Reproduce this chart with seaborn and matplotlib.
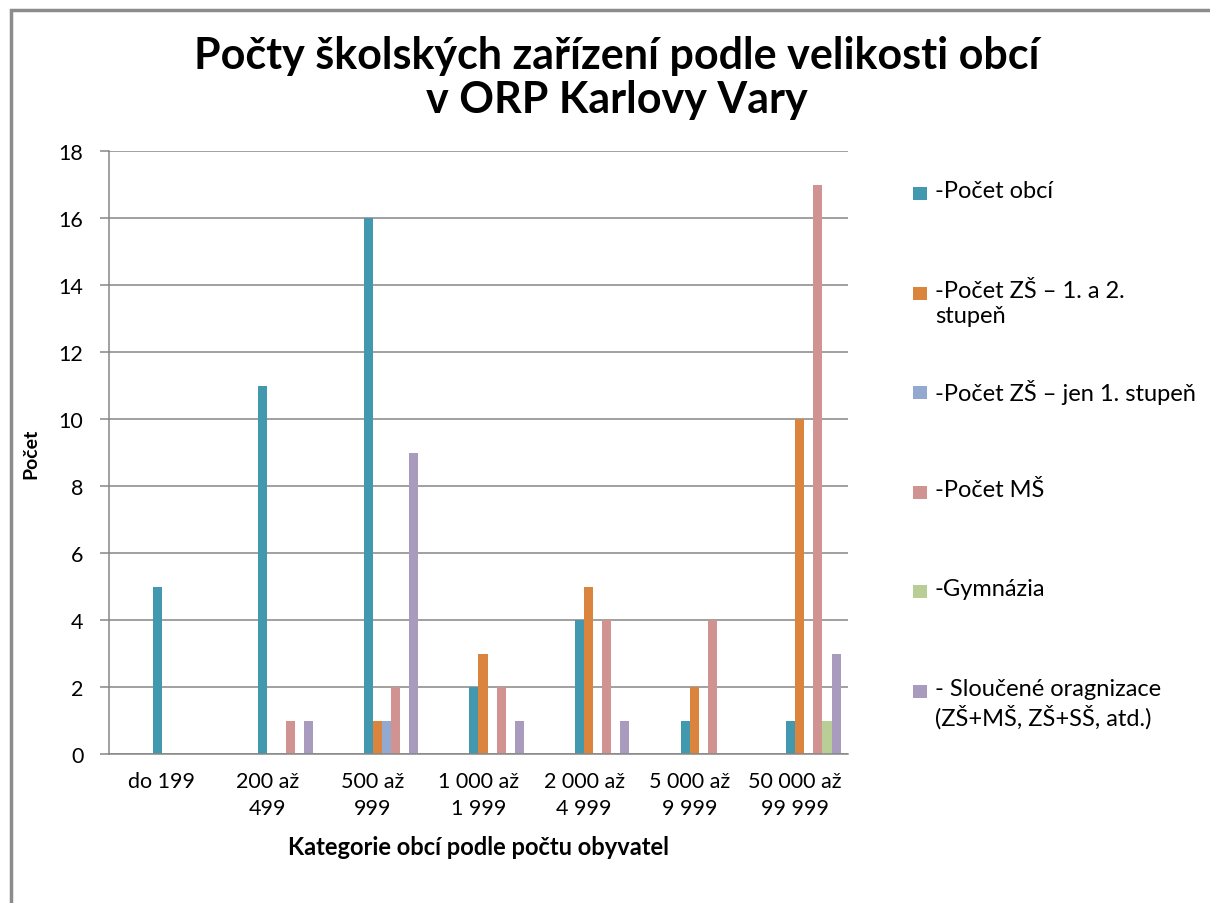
import pandas as pd
import numpy as np
import matplotlib
matplotlib.use("Agg")
import matplotlib.pyplot as plt
from matplotlib.patches import Rectangle
import seaborn as sns

# data
kategorie = ["do 199", "200 až\n499", "500 až\n999", "1 000 až\n1 999",
             "2 000 až\n4 999", "5 000 až\n9 999", "50 000 až\n99 999"]
pocet_obci = [5, 11, 16, 2, 4, 1, 1]
zs_1_2 = [0, 0, 1, 3, 5, 2, 10]
zs_jen_1 = [0, 0, 1, 0, 0, 0, 0]
ms = [0, 1, 2, 2, 4, 4, 17]
gymnazia = [0, 0, 0, 0, 0, 0, 1]
sloucene = [0, 1, 9, 1, 1, 0, 3]

serie = ["-Počet obcí", "-Počet ZŠ – 1. a 2.\nstupeň", "-Počet ZŠ – jen 1. stupeň",
         "-Počet MŠ", "-Gymnázia", "- Sloučené oragnizace\n(ZŠ+MŠ, ZŠ+SŠ, atd.)"]
barvy = ["#4198AF", "#DB843D", "#93A9CF", "#D19392", "#B9CD96", "#A99BBD"]

# the original workbook had 4 empty series in front, they still take slots
prazdne = [" " * (i + 1) for i in range(4)]

rows = []
for name, vals in zip(serie, [pocet_obci, zs_1_2, zs_jen_1, ms, gymnazia, sloucene]):
    for k, v in zip(kategorie, vals):
        rows.append({"kategorie": k, "rada": name, "pocet": v})
df = pd.DataFrame(rows)

sns.set_theme(style="white")
plt.rcParams['font.family'] = ['Lato', 'DejaVu Sans']

fig = plt.figure(figsize=(12.1, 9.04), dpi=100)
ax = fig.add_axes([109 / 1210, 1 - 755 / 904, (848 - 109) / 1210, (755 - 152) / 904])

pal = {p: "white" for p in prazdne}
pal.update(dict(zip(serie, barvy)))
sns.barplot(data=df, x="kategorie", y="pocet", hue="rada",
            order=kategorie, hue_order=prazdne + serie, palette=pal,
            width=0.86, linewidth=0, saturation=1, legend=False, ax=ax)

ax.set_ylim(0, 18)
ax.set_xlim(-0.5, len(kategorie) - 0.5)
ax.set_yticks(np.arange(0, 19, 2))
ax.yaxis.grid(True, color="#868686", linewidth=1.1)
ax.set_axisbelow(True)
for s in ["top", "right"]:
    ax.spines[s].set_visible(False)
for s in ["left", "bottom"]:
    ax.spines[s].set_color("#868686")
    ax.spines[s].set_linewidth(1.1)
ax.tick_params(axis="y", length=6.5, width=1.1, color="#868686", pad=12,
               labelsize=15.5, labelcolor="black", direction="out", left=True)
ax.tick_params(axis="x", length=0, pad=12, labelsize=15.5, labelcolor="black")
for t in ax.get_xticklabels():
    t.set_linespacing(1.45)

ax.set_xlabel("Kategorie obcí podle počtu obyvatel", fontsize=17,
              fontweight="bold", labelpad=12, color="black")
ax.set_ylabel("Počet", fontsize=14, fontweight="bold", labelpad=14, color="black")

fig.text(617 / 1210, 1 - 78 / 904,
         "Počty školských zařízení podle velikosti obcí\nv ORP Karlovy Vary",
         ha="center", va="center", fontsize=31, fontweight="bold",
         linespacing=1.1, color="black")

# legend drawn like the Excel one: evenly spaced first lines
for i, (name, c) in enumerate(zip(serie, barvy)):
    yc = 194 + i * 99.6
    fig.add_artist(Rectangle((913 / 1210, 1 - (yc + 7) / 904), 14 / 1210, 13 / 904,
                             transform=fig.transFigure, color=c, lw=0))
    fig.text(935 / 1210, 1 - (yc - 13) / 904, name, ha="left", va="top",
             fontsize=17, color="black", linespacing=1.25)

# outer chart frame
fig.add_artist(Rectangle((11 / 1210, -0.05), 1.2, 1 - 11 / 904 + 0.05,
                         transform=fig.transFigure, fill=False,
                         edgecolor="#8c8c8c", lw=2.5))

fig.savefig("out.png", dpi=100)
